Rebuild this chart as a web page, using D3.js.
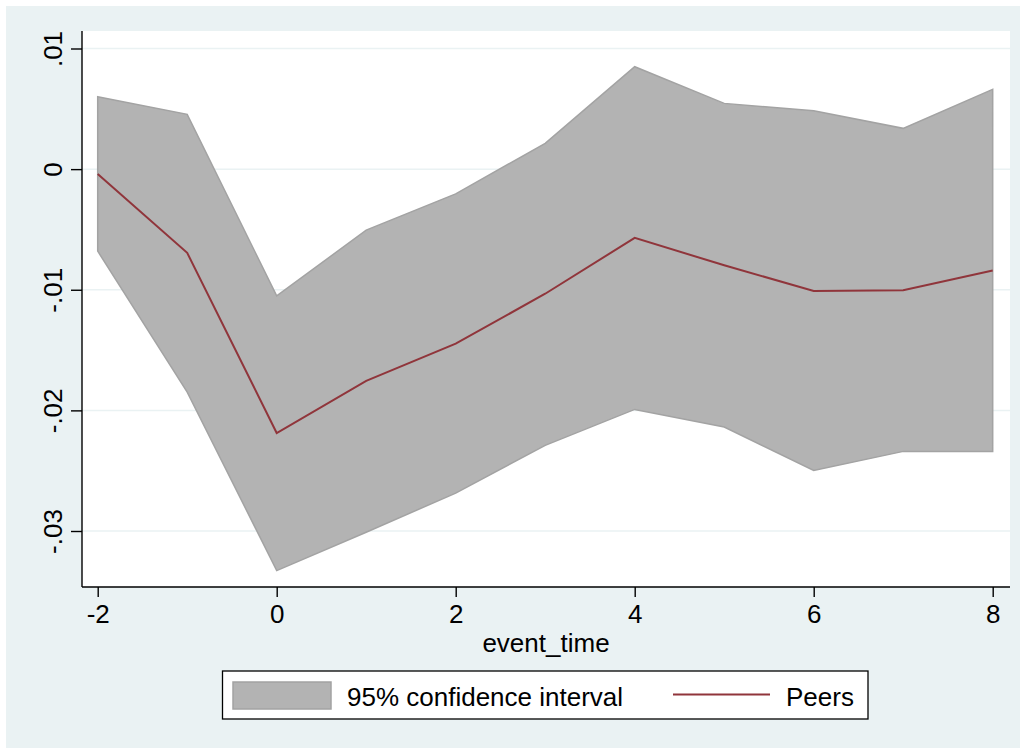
<!DOCTYPE html>
<html>
<head>
<meta charset="utf-8">
<script src="https://cdn.jsdelivr.net/npm/d3@7"></script>
<style>
  html, body { margin: 0; padding: 0; background: #ffffff; }
  svg { display: block; font-family: "Liberation Sans", Arial, Helvetica, sans-serif; }
</style>
</head>
<body>
<svg id="chart" width="1027" height="749"></svg>
<script>
// ---- data ----
const eventTime = [-2, -1, 0, 1, 2, 3, 4, 5, 6, 7, 8];
const peers     = [-0.0004, -0.00694, -0.02188, -0.01755, -0.01447, -0.01033, -0.0057, -0.00797, -0.0101, -0.01004, -0.00841];
const ciUpper   = [0.0060, 0.00454, -0.01051, -0.00506, -0.00205, 0.00214, 0.00849, 0.00545, 0.00484, 0.00338, 0.00661];
const ciLower   = [-0.0068, -0.01848, -0.03328, -0.0301, -0.02686, -0.0229, -0.01992, -0.02138, -0.02498, -0.0234, -0.0234];
const xTicks = [-2, 0, 2, 4, 6, 8];
const yTicks = [0.01, 0, -0.01, -0.02, -0.03];
const yTickLabels = [".01", "0", "-.01", "-.02", "-.03"];
const xTitle = "event_time";
const legendLabels = ["95% confidence interval", "Peers"];

// ---- layout ----
const svg = d3.select("#chart");
const plot = { left: 82, right: 1010, top: 31, bottom: 587 };
const x = d3.scaleLinear().domain([-2, 8]).range([97.7, 992.7]);
const y = d3.scaleLinear().domain([-0.03, 0.01]).range([531, 48.5]);
const fs = 26;

// outer graph region
svg.append("rect").attr("x", 6).attr("y", 6).attr("width", 1014).attr("height", 742)
  .attr("fill", "#eaf2f3");
// plot region
svg.append("rect").attr("x", plot.left).attr("y", plot.top)
  .attr("width", plot.right - plot.left).attr("height", plot.bottom - plot.top)
  .attr("fill", "#ffffff");

// gridlines
svg.append("g").selectAll("line").data(yTicks).join("line")
  .attr("x1", plot.left).attr("x2", plot.right)
  .attr("y1", d => y(d)).attr("y2", d => y(d))
  .attr("stroke", "#eaf2f3").attr("stroke-width", 1.5);

// CI area
const data = eventTime.map((t, i) => ({ t, lo: ciLower[i], hi: ciUpper[i], p: peers[i] }));
const area = d3.area().x(d => x(d.t)).y0(d => y(d.lo)).y1(d => y(d.hi));
svg.append("path").datum(data).attr("d", area)
  .attr("fill", "#b3b3b3").attr("stroke", "#a3a3a3").attr("stroke-width", 1.5)
  .attr("stroke-linejoin", "miter");

// Peers line
const line = d3.line().x(d => x(d.t)).y(d => y(d.p));
svg.append("path").datum(data).attr("d", line)
  .attr("fill", "none").attr("stroke", "#90353b").attr("stroke-width", 2);

// axes
const yAxis = d3.axisLeft(y).tickValues(yTicks).tickSize(11)
  .tickFormat((d, i) => yTickLabels[i]);
const gy = svg.append("g").attr("transform", `translate(${plot.left},0)`).call(yAxis);
gy.select(".domain").attr("d", `M0,${plot.top}V${plot.bottom}`).attr("stroke", "#000").attr("stroke-width", 1.4);
gy.selectAll(".tick line").attr("stroke", "#000").attr("stroke-width", 1.4);
gy.selectAll(".tick text")
  .attr("font-size", fs).attr("fill", "#000")
  .attr("x", 0).attr("dy", null).attr("y", 0)
  .attr("text-anchor", "middle")
  .attr("transform", `translate(-20,0) rotate(-90)`);

const xAxis = d3.axisBottom(x).tickValues(xTicks).tickSize(10).tickFormat(d => String(d));
const gx = svg.append("g").attr("transform", `translate(0,${plot.bottom})`).call(xAxis);
gx.select(".domain").attr("d", `M${plot.left},0H${plot.right}`).attr("stroke", "#000").attr("stroke-width", 1.4);
gx.selectAll(".tick line").attr("stroke", "#000").attr("stroke-width", 1.4);
gx.selectAll(".tick text").attr("font-size", fs).attr("fill", "#000")
  .attr("dy", null).attr("y", 36);

// x title
svg.append("text").attr("x", (plot.left + plot.right) / 2).attr("y", 652)
  .attr("text-anchor", "middle").attr("font-size", fs).attr("fill", "#000").text(xTitle);

// legend
const lg = svg.append("g");
lg.append("rect").attr("x", 222.5).attr("y", 671).attr("width", 645.5).attr("height", 48)
  .attr("fill", "#fff").attr("stroke", "#000").attr("stroke-width", 1.3);
lg.append("rect").attr("x", 233).attr("y", 682).attr("width", 98).attr("height", 27)
  .attr("fill", "#b3b3b3").attr("stroke", "#a3a3a3").attr("stroke-width", 1.5);
lg.append("text").attr("x", 347).attr("y", 706).attr("font-size", fs).attr("fill", "#000").text(legendLabels[0]);
lg.append("line").attr("x1", 673).attr("x2", 770).attr("y1", 694.5).attr("y2", 694.5)
  .attr("stroke", "#90353b").attr("stroke-width", 2);
lg.append("text").attr("x", 786).attr("y", 706).attr("font-size", fs).attr("fill", "#000").text(legendLabels[1]);
</script>
</body>
</html>
